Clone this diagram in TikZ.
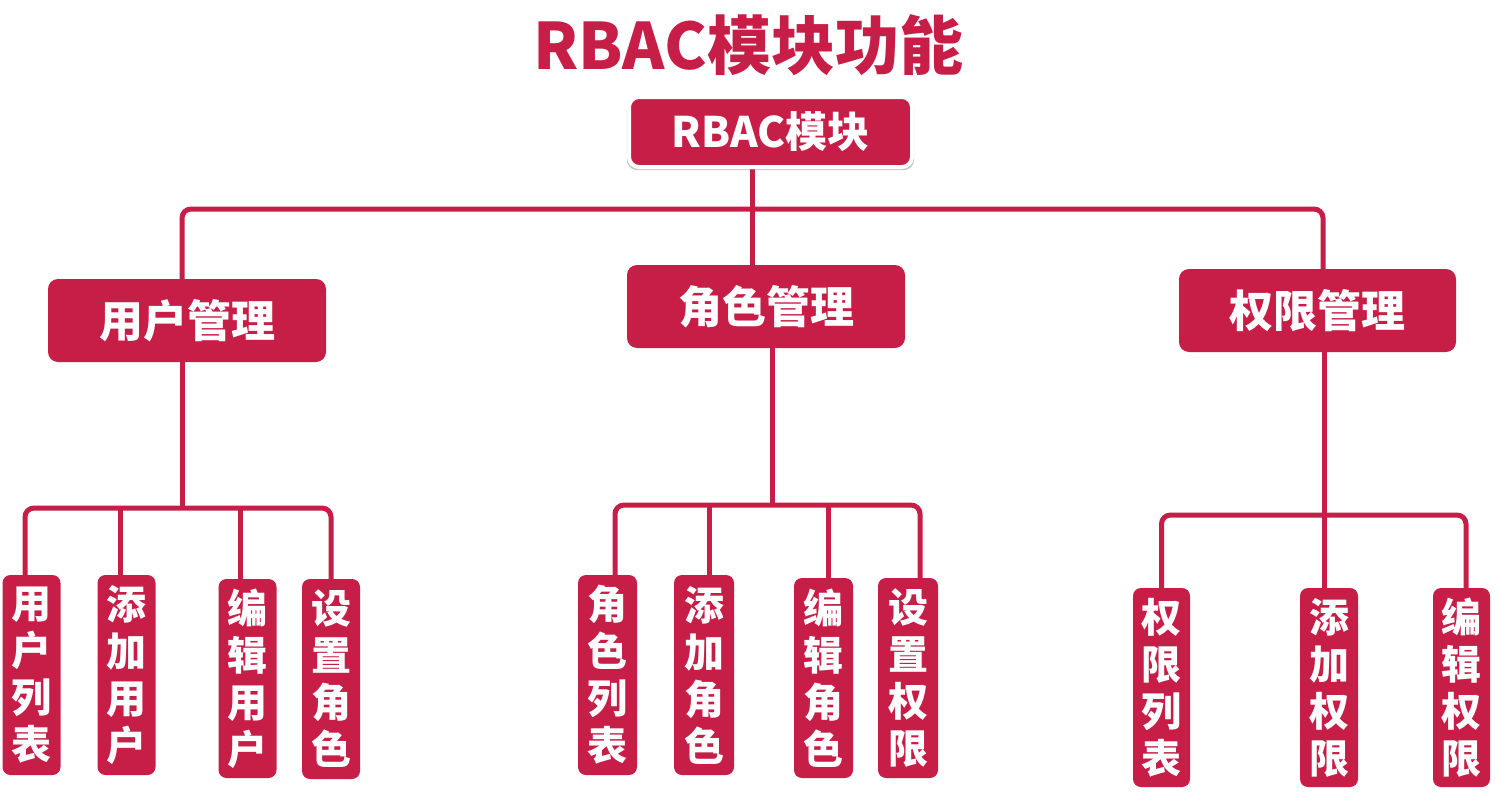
\documentclass[tikz,border=0pt]{standalone}
\usepackage{fontspec}
\setmainfont{Noto Sans CJK SC}
\usetikzlibrary{shadows,backgrounds}
\definecolor{crim}{RGB}{198,30,70}
\tikzset{
  x=1pt, y=-1pt,
  box/.style={fill=crim, rounded corners=10pt, text=white, font=\fontsize{44}{50}\selectfont\bfseries, inner sep=0pt, minimum width=278pt, minimum height=83pt},
  topbox/.style={box, draw=white, line width=4pt, drop shadow={opacity=0.45, fill=gray, shadow xshift=0pt, shadow yshift=-2.5pt, shadow scale=1.015}, minimum width=283pt, minimum height=70pt, font=\fontsize{42}{48}\selectfont\bfseries},
  leaf/.style={fill=crim, rounded corners=8pt, text=white, font=\fontsize{40}{47}\selectfont\bfseries, inner sep=0pt, minimum width=58pt, minimum height=200pt, align=center},
  conn/.style={draw=crim, line width=5pt, rounded corners=9pt},
}
\begin{document}
\begin{tikzpicture}
\useasboundingbox (0,0) rectangle (1500,792);

\node[text=crim, font=\fontsize{64}{70}\selectfont\bfseries, inner sep=0pt] (title) at (748,45) {RBAC模块功能};

\coordinate (cT) at (752,209);
\coordinate (cU) at (182,508);
\coordinate (cR) at (771,505);
\coordinate (cP) at (1324,515);

\node[topbox] (top) at (770.5,132) {RBAC模块};
\node[box] (um) at (187,320.5) {用户管理};
\node[box] (rm) at (766,306.5) {角色管理};
\node[box, minimum width=277pt] (pm) at (1317.5,310.5) {权限管理};

\node[leaf] (u1) at (31.5,675) {用\\户\\列\\表};
\node[leaf] (u2) at (126.5,675) {添\\加\\用\\户};
\node[leaf, minimum height=199pt] (u3) at (247.5,678.5) {编\\辑\\用\\户};
\node[leaf] (u4) at (331,679) {设\\置\\角\\色};

\node[leaf, minimum width=59pt] (r1) at (607.5,675) {角\\色\\列\\表};
\node[leaf, minimum width=60pt] (r2) at (704,675) {添\\加\\角\\色};
\node[leaf, minimum width=59pt] (r3) at (823.5,678) {编\\辑\\角\\色};
\node[leaf, minimum width=60pt] (r4) at (908,678) {设\\置\\权\\限};

\node[leaf, minimum width=57pt, minimum height=199pt] (p1) at (1161.5,687.5) {权\\限\\列\\表};
\node[leaf, minimum height=199pt] (p2) at (1329,687.5) {添\\加\\权\\限};
\node[leaf, minimum width=57pt, minimum height=199pt] (p3) at (1461.5,687.5) {编\\辑\\权\\限};

\begin{scope}[on background layer]
\fill[white] (0,0) rectangle (1500,792);
% level 1
\draw[conn] (top.south -| cT) -- (rm.north -| cT);
\draw[conn] ([xshift=-5pt]um.north) |- (cT) -| ([xshift=5.5pt]pm.north);

% group users
\draw[conn] ([xshift=-5pt]um.south) -- (cU);
\draw[conn] ([xshift=-6.5pt]u1.north) |- (cU) -| (u4.north);
\draw[conn] ([xshift=-6.5pt]u2.north) -- ([xshift=-6.5pt]u2.north |- cU);
\draw[conn] ([xshift=-7.5pt]u3.north) -- ([xshift=-7.5pt]u3.north |- cU);

% group roles
\draw[conn] ([xshift=6pt]rm.south) -- ([xshift=6pt]rm.south |- cR);
\draw[conn] ([xshift=7.5pt]r1.north) |- (cR) -| ([xshift=12pt]r4.north);
\draw[conn] ([xshift=5pt]r2.north) -- ([xshift=5pt]r2.north |- cR);
\draw[conn] ([xshift=4.5pt]r3.north) -- ([xshift=4.5pt]r3.north |- cR);

% group permissions
\draw[conn] ([xshift=6.5pt]pm.south) -- (cP);
\draw[conn] (p1.north) |- (cP) -| ([xshift=4.5pt]p3.north);
\draw[conn] ([xshift=-5pt]p2.north) -- ([xshift=-5pt]p2.north |- cP);
\end{scope}
\end{tikzpicture}
\end{document}
